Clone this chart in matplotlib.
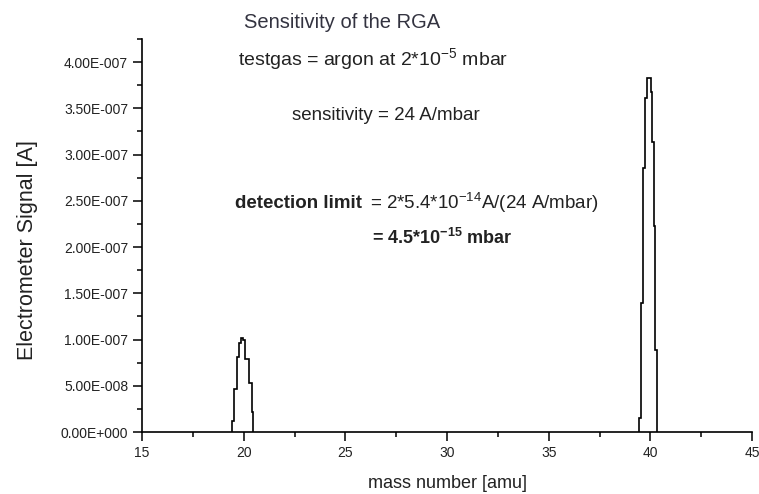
import numpy as np
import matplotlib
matplotlib.use('Agg')
import matplotlib.pyplot as plt
from matplotlib.ticker import MultipleLocator, FuncFormatter

plt.rcParams['font.family'] = ['Liberation Sans', 'DejaVu Sans']
plt.rcParams['mathtext.fontset'] = 'custom'
plt.rcParams['mathtext.rm'] = 'Liberation Sans'
plt.rcParams['mathtext.bf'] = 'Liberation Sans:bold'

# scan data (signal in units of 1e-7 A)
# each peak is stored as step edges (amu) and the level between two edges
peak20_edges = [19.43, 19.54, 19.66, 19.78, 19.86, 19.99, 20.07, 20.28, 20.39, 20.44]
peak20_signal = [0.12, 0.46, 0.81, 0.96, 1.02, 0.99, 0.79, 0.53, 0.22]
peak40_edges = [39.43, 39.53, 39.63, 39.74, 39.84, 40.01, 40.07, 40.16, 40.23, 40.33]
peak40_signal = [0.15, 1.39, 2.86, 3.61, 3.83, 3.68, 3.14, 2.23, 0.89]
scale = 1e-7

x_range = [15, 45]
y_range = [0, 4.25e-7]


def origin_sci(v, pos):
    m, e = ('%.2E' % v).split('E')
    e = int(e)
    return '%sE%s%03d' % (m, '+' if e >= 0 else '-', abs(e))


fig = plt.figure(figsize=(7.59, 4.94), dpi=100)
ax = fig.add_axes([142/759, 1-432/494, (752-142)/759, (432-39)/494])

for edges, sig in [(peak20_edges, peak20_signal), (peak40_edges, peak40_signal)]:
    ax.stairs(np.array(sig)*scale, edges, baseline=0, color='black', linewidth=1.2)

ax.set_xlim(x_range)
ax.set_ylim(y_range)
ax.spines['top'].set_visible(False)
ax.spines['right'].set_visible(False)
for s in ['left', 'bottom']:
    ax.spines[s].set_linewidth(1.2)

ax.xaxis.set_major_locator(MultipleLocator(5))
ax.xaxis.set_minor_locator(MultipleLocator(2.5))
ax.yaxis.set_major_locator(MultipleLocator(0.5e-7))
ax.yaxis.set_minor_locator(MultipleLocator(0.25e-7))
ax.yaxis.set_major_formatter(FuncFormatter(origin_sci))
ax.tick_params(which='major', direction='out', length=6.5, width=1.1,
               labelsize=10, labelcolor='#222222', pad=3.5)
ax.tick_params(which='minor', direction='out', length=3.5, width=1.1)

fig.text(27/759, 1-250/494, 'Electrometer Signal [A]', rotation=90,
         ha='center', va='center', fontsize=15.5, color='#222222')
fig.text(447/759, 1-483/494, 'mass number [amu]', ha='center', va='center',
         fontsize=13, color='#222222')

fig.text(342/759, 1-22/494, 'Sensitivity of the RGA', ha='center', va='center',
         fontsize=14.5, color='#333340')
fig.text(238/759, 1-60/494, r'testgas = argon at 2*10$^{-5}$ mbar',
         ha='left', va='center', fontsize=14, color='#222222')
fig.text(292/759, 1-115/494, 'sensitivity = 24 A/mbar',
         ha='left', va='center', fontsize=13.5, color='#222222')
fig.text(235/759, 1-203/494, 'detection limit', ha='left', va='center',
         fontsize=13.5, fontweight='bold', color='#222222')
fig.text(370/759, 1-203/494, r'= 2*5.4*10$^{-14}$A/(24 A/mbar)',
         ha='left', va='center', fontsize=13.5, color='#222222')
fig.text(372/759, 1-238/494, r'= 4.5*10$^{\mathbf{-15}}$ mbar',
         ha='left', va='center', fontsize=13, fontweight='bold', color='#222222')

fig.savefig('out.png', dpi=100)
